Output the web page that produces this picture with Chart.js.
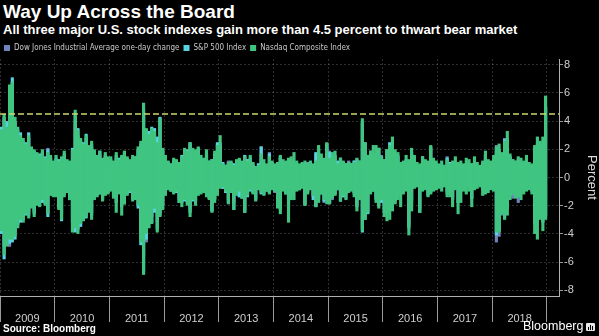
<!DOCTYPE html>
<html>
<head>
<meta charset="utf-8">
<script src="https://cdn.jsdelivr.net/npm/chart.js@4.4.1/dist/chart.umd.min.js"></script>
<style>
  html, body { margin: 0; padding: 0; background: #000; }
  #wrap { position: relative; width: 599px; height: 336px; overflow: hidden; background: #000;
          font-family: 'Liberation Sans', Arial, sans-serif; color: #fff; }
  #title { position: absolute; left: 3px; top: 2px; font-size: 19px; line-height: 1; font-weight: bold; white-space: nowrap; }
  #subtitle { position: absolute; left: 3px; top: 23px; font-size: 13px; line-height: 1; font-weight: bold; white-space: nowrap; }
  #chartBox { position: absolute; left: 0; top: 40px; width: 599px; height: 296px; }
  #source { position: absolute; left: 3px; top: 324px; font-size: 10px; line-height: 1; font-weight: bold; }
  #brand { position: absolute; left: 523px; top: 320px; font-size: 12.5px; line-height: 1; }
  #logo { position: absolute; left: 586px; top: 323px; width: 9px; height: 8px; background: #e8e8e8; border-radius: 1px; }
  #logo i { position: absolute; bottom: 1px; width: 1px; background: #000; }
</style>
</head>
<body>
<div id="wrap">
  <div id="title">Way Up Across the Board</div>
  <div id="subtitle">All three major U.S. stock indexes gain more than 4.5 percent to thwart bear market</div>
  <div id="chartBox"><canvas id="chart" width="599" height="296"></canvas></div>
  <div id="source">Source: Bloomberg</div>
  <div id="brand">Bloomberg</div>
  <div id="logo"><i style="left:2px;height:3px"></i><i style="left:4px;height:5px"></i><i style="left:6px;height:4px"></i></div>
</div>
<script>
// daily % moves, summarised as the low / high of each ~2.5 week slice (20 per year)
const firstYear = 2009;
const periodsPerYear = 20;
const yearLabels = ['2009', '2010', '2011', '2012', '2013', '2014', '2015', '2016', '2017', '2018'];
const yTicks = [-8, -7, -6, -5, -4, -3, -2, -1, 0, 1, 2, 3, 4, 5, 6, 7, 8];
const xRange = [2009, 2019.22];
const yRange = [-8.4, 8.4];
const thresholdValue = 4.5;

const nasdaqHigh = [
  3.4, 4.5, 3.6, 6.6, 6.8, 4.3, 3.6, 3.0, 2.8, 2.4, 3.0, 2.2, 2.0, 1.8, 1.6, 2.0, 1.4, 1.8, 1.6, 1.2,
  1.6, 1.2, 1.5, 1.9, 1.3, 1.2, 2.0, 4.8, 3.4, 2.8, 2.4, 3.0, 2.3, 2.6, 2.0, 1.6, 1.9, 1.4, 1.8, 1.5,
  1.5, 1.2, 1.8, 1.3, 1.6, 1.9, 1.5, 1.3, 1.6, 1.5, 2.2, 2.6, 5.3, 3.5, 3.1, 3.5, 3.3, 2.5, 4.2, 2.1,
  1.6, 1.2, 1.0, 1.4, 1.3, 1.1, 1.5, 2.1, 1.9, 2.5, 2.1, 2.0, 2.2, 1.6, 1.4, 2.0, 1.2, 1.3, 1.9, 2.3,
  3.0, 1.0, 0.9, 1.1, 1.2, 0.9, 1.3, 1.4, 1.2, 1.5, 1.2, 1.6, 1.1, 0.8, 0.9, 1.7, 1.3, 1.0, 1.5, 1.2,
  1.0, 1.1, 1.6, 1.3, 1.2, 1.4, 1.5, 1.8, 1.2, 1.0, 1.1, 1.2, 1.0, 1.2, 1.0, 1.2, 2.3, 1.7, 1.4, 2.5,
  1.4, 1.8, 1.9, 1.0, 1.4, 1.2, 1.0, 1.1, 1.0, 1.1, 1.4, 1.2, 4.2, 2.5, 1.6, 1.9, 2.3, 2.3, 2.1, 1.5,
  1.3, 2.0, 2.3, 2.9, 2.0, 1.8, 1.1, 1.2, 1.6, 1.3, 2.1, 1.6, 1.1, 1.0, 1.5, 1.3, 1.2, 2.3, 1.4, 1.2,
  1.0, 1.2, 0.9, 1.3, 1.0, 1.2, 1.5, 1.1, 1.2, 1.0, 1.4, 1.3, 1.0, 1.5, 1.1, 0.9, 1.2, 1.9, 1.3, 1.2,
  1.6, 2.2, 2.4, 1.8, 2.6, 3.3, 1.7, 1.3, 1.2, 1.5, 1.4, 1.2, 1.6, 1.1, 1.0, 2.3, 2.9, 2.6, 2.9, 5.8
];
const nasdaqLow = [
  -3.8, -5.5, -4.9, -4.4, -4.4, -4.2, -3.6, -3.0, -3.2, -2.6, -2.9, -2.2, -2.8, -2.0, -2.1, -1.6, -2.0, -2.6, -1.3, -1.4,
  -1.4, -2.3, -3.0, -1.4, -1.1, -1.6, -3.9, -3.6, -4.0, -3.3, -3.1, -2.8, -2.5, -3.0, -1.6, -1.4, -1.2, -1.7, -1.3, -1.2,
  -1.0, -1.5, -2.5, -1.2, -2.7, -1.9, -1.3, -1.0, -1.7, -1.6, -2.0, -4.6, -6.9, -4.0, -3.6, -3.3, -2.2, -3.9, -2.8, -2.3,
  -1.3, -0.9, -1.0, -1.2, -1.0, -1.8, -2.1, -1.6, -2.0, -2.8, -1.6, -2.0, -1.3, -1.2, -1.1, -1.4, -1.6, -2.5, -1.8, -1.3,
  -0.8, -0.7, -1.0, -1.9, -1.1, -2.3, -1.3, -1.0, -1.5, -2.5, -1.3, -0.9, -1.2, -1.7, -0.9, -1.1, -1.3, -1.0, -1.2, -0.9,
  -1.0, -2.2, -2.6, -1.0, -1.2, -3.2, -1.6, -1.6, -1.0, -0.9, -0.8, -2.0, -1.2, -0.9, -1.3, -2.1, -1.8, -1.2, -1.6, -1.9,
  -1.9, -1.5, -1.3, -0.9, -1.7, -1.3, -1.6, -1.1, -1.0, -1.4, -2.4, -1.6, -3.8, -3.0, -2.5, -1.2, -1.0, -1.8, -2.2, -1.6,
  -2.8, -3.1, -3.0, -2.4, -1.9, -1.6, -2.1, -1.2, -1.0, -4.1, -2.4, -0.8, -0.7, -2.5, -1.0, -0.9, -1.4, -1.2, -1.0, -0.9,
  -0.8, -1.0, -0.7, -1.4, -1.4, -2.1, -0.9, -2.6, -1.8, -1.0, -1.2, -1.0, -2.1, -0.9, -0.8, -0.7, -1.3, -1.2, -1.1, -0.9,
  -1.0, -3.9, -3.9, -2.6, -3.0, -2.7, -1.6, -1.2, -1.5, -1.4, -1.6, -1.2, -1.0, -0.9, -1.2, -4.0, -4.4, -3.0, -3.8, -3.0
];

const spxHigh = [
  3.6, 4.3, 4.0, 6.2, 7.1, 4.0, 3.4, 3.2, 2.6, 2.5, 3.2, 2.0, 1.9, 1.6, 1.7, 1.8, 1.5, 2.0, 1.4, 1.1,
  1.4, 1.3, 1.3, 1.7, 1.2, 1.1, 2.1, 4.4, 3.5, 2.6, 2.5, 3.1, 2.0, 2.4, 1.9, 1.5, 1.9, 1.3, 1.6, 1.3,
  1.3, 1.0, 1.6, 1.4, 1.5, 1.8, 1.4, 1.2, 1.4, 1.5, 2.0, 2.4, 4.8, 3.4, 3.3, 3.6, 3.5, 2.9, 4.3, 2.0,
  1.5, 1.1, 1.0, 1.2, 1.2, 1.0, 1.6, 1.9, 2.0, 2.5, 1.8, 1.7, 2.1, 1.4, 1.2, 1.7, 1.2, 1.3, 1.7, 2.5,
  2.5, 1.1, 0.9, 1.0, 1.1, 1.0, 1.2, 1.3, 1.1, 1.6, 1.3, 1.4, 1.0, 0.8, 1.0, 2.2, 1.0, 0.9, 1.7, 1.1,
  0.9, 1.0, 1.5, 1.1, 1.0, 1.3, 1.2, 1.1, 0.9, 0.9, 1.0, 1.0, 1.0, 1.1, 0.9, 1.8, 2.0, 1.4, 1.2, 2.4,
  1.8, 1.5, 1.6, 1.2, 1.4, 1.1, 1.0, 1.1, 1.0, 1.2, 1.3, 1.2, 3.9, 2.5, 1.5, 1.9, 1.7, 1.5, 2.1, 1.5,
  1.1, 2.0, 2.5, 2.4, 1.7, 1.6, 1.0, 1.1, 1.3, 1.1, 1.8, 1.5, 0.9, 0.8, 1.5, 1.2, 1.1, 2.2, 1.2, 1.0,
  0.8, 0.9, 0.7, 1.4, 1.1, 0.9, 1.1, 1.0, 0.9, 0.8, 1.0, 1.0, 1.0, 1.1, 0.8, 0.8, 1.0, 1.6, 1.0, 0.9,
  1.2, 1.9, 2.0, 1.7, 2.7, 2.7, 1.5, 1.1, 1.0, 1.2, 1.0, 1.0, 1.0, 0.8, 0.8, 2.1, 2.4, 2.3, 2.3, 5.0
];
const spxLow = [
  -4.0, -5.8, -4.8, -4.7, -4.6, -4.4, -3.4, -3.2, -3.0, -2.7, -2.7, -2.1, -2.6, -1.9, -2.0, -1.8, -1.9, -2.8, -1.2, -1.3,
  -1.3, -2.2, -3.1, -1.2, -1.0, -1.6, -3.2, -3.9, -3.7, -3.5, -2.9, -2.9, -2.2, -2.7, -1.5, -1.3, -1.2, -1.6, -1.2, -1.1,
  -0.9, -1.3, -1.8, -1.1, -2.1, -1.9, -1.2, -1.1, -1.6, -1.5, -2.2, -4.8, -6.7, -4.4, -3.3, -3.2, -2.5, -3.7, -2.7, -2.0,
  -1.2, -0.8, -1.0, -1.1, -1.1, -1.8, -1.8, -1.7, -1.9, -2.5, -1.7, -1.7, -1.2, -1.0, -1.0, -1.2, -1.5, -2.4, -1.6, -1.2,
  -0.7, -0.8, -1.1, -1.8, -1.1, -2.3, -1.1, -1.4, -1.5, -2.5, -1.4, -1.0, -1.1, -1.6, -0.8, -1.2, -1.2, -1.0, -1.1, -0.8,
  -1.0, -2.1, -2.3, -0.9, -1.2, -2.1, -1.3, -1.0, -0.8, -0.9, -0.7, -2.0, -1.1, -0.8, -1.6, -2.1, -1.6, -1.2, -1.7, -1.6,
  -1.8, -1.4, -1.2, -0.9, -1.7, -1.4, -1.2, -1.0, -0.9, -1.1, -2.1, -1.3, -3.9, -3.0, -2.6, -1.0, -1.0, -1.6, -2.0, -1.8,
  -2.5, -2.5, -2.3, -2.0, -1.7, -1.3, -1.2, -1.0, -0.9, -3.6, -1.8, -0.7, -0.6, -2.5, -0.9, -0.8, -1.3, -1.1, -0.9, -0.8,
  -0.6, -0.7, -0.6, -1.2, -1.2, -1.6, -0.8, -1.8, -0.9, -0.8, -0.7, -0.6, -1.5, -0.7, -0.5, -0.5, -0.9, -0.8, -0.9, -0.6,
  -0.8, -4.1, -3.8, -2.5, -2.5, -2.2, -1.3, -1.2, -1.1, -1.4, -1.0, -0.8, -0.8, -0.7, -1.0, -3.3, -3.1, -2.6, -3.2, -2.7
];

const dowHigh = [
  3.0, 4.1, 3.7, 5.8, 6.8, 3.9, 3.0, 2.9, 2.5, 2.3, 2.8, 1.8, 1.8, 1.5, 1.6, 1.7, 1.4, 2.1, 1.3, 1.0,
  1.2, 1.1, 1.3, 1.5, 1.0, 1.0, 1.9, 3.9, 3.0, 2.5, 2.2, 2.8, 2.0, 2.2, 1.8, 1.4, 1.7, 1.2, 1.5, 1.2,
  1.1, 1.0, 1.4, 1.2, 1.3, 1.6, 1.3, 1.1, 1.3, 1.4, 1.9, 2.2, 4.6, 3.0, 3.0, 3.3, 3.0, 2.6, 4.2, 1.9,
  1.5, 1.0, 0.9, 1.1, 1.1, 0.9, 1.4, 1.8, 1.9, 2.4, 1.8, 1.6, 2.0, 1.3, 1.1, 1.6, 1.1, 1.2, 1.6, 2.4,
  2.4, 1.0, 0.8, 1.2, 1.0, 1.0, 1.1, 1.2, 1.1, 1.5, 1.3, 1.2, 0.9, 0.8, 1.0, 2.2, 0.9, 0.9, 1.8, 1.0,
  0.9, 1.0, 1.4, 1.0, 1.0, 1.2, 1.1, 1.0, 0.9, 0.9, 0.9, 1.0, 1.1, 1.0, 0.9, 1.7, 1.7, 1.4, 1.2, 2.4,
  1.9, 1.5, 1.5, 1.1, 1.4, 1.1, 1.0, 1.2, 1.0, 1.2, 1.2, 1.1, 3.9, 2.4, 1.6, 1.8, 1.7, 1.5, 2.1, 1.6,
  1.3, 1.9, 2.0, 2.1, 1.6, 1.5, 1.1, 1.0, 1.2, 1.0, 1.6, 1.4, 0.8, 0.8, 1.5, 1.1, 1.0, 2.1, 1.2, 1.0,
  0.7, 0.8, 0.9, 1.5, 0.8, 0.9, 1.0, 0.9, 0.8, 0.8, 0.9, 0.9, 0.9, 1.0, 0.9, 0.8, 1.0, 1.4, 1.2, 0.9,
  1.2, 2.3, 1.9, 1.7, 2.8, 2.8, 1.5, 1.3, 1.2, 1.3, 1.0, 1.1, 1.0, 0.9, 0.9, 2.0, 2.2, 2.3, 2.5, 5.0
];
const dowLow = [
  -3.5, -4.9, -4.6, -4.9, -4.1, -3.9, -3.3, -2.9, -2.7, -2.4, -2.5, -1.9, -2.4, -1.7, -1.8, -1.7, -1.8, -2.5, -1.2, -1.2,
  -1.2, -2.0, -2.6, -1.1, -0.9, -1.3, -3.2, -3.6, -3.6, -3.1, -2.7, -2.6, -2.1, -2.5, -1.4, -1.2, -1.1, -1.5, -1.1, -1.0,
  -0.8, -1.2, -1.4, -1.0, -1.8, -1.7, -1.1, -1.0, -1.4, -1.4, -2.0, -4.3, -5.6, -4.6, -3.1, -2.8, -2.2, -3.2, -2.5, -1.9,
  -1.1, -0.8, -0.9, -1.0, -1.0, -1.6, -1.7, -1.5, -1.8, -2.2, -1.5, -1.6, -1.1, -0.9, -0.9, -1.1, -1.5, -2.4, -1.5, -1.1,
  -0.6, -0.8, -1.0, -1.6, -1.0, -1.8, -1.0, -1.4, -1.4, -2.3, -1.3, -0.9, -1.0, -1.5, -0.8, -1.1, -1.1, -0.9, -1.0, -0.8,
  -1.1, -2.0, -2.1, -0.9, -1.1, -1.6, -1.2, -0.9, -0.7, -0.8, -0.7, -1.9, -1.0, -0.8, -1.4, -2.0, -1.4, -1.1, -1.8, -1.5,
  -1.9, -1.6, -1.2, -0.8, -1.7, -1.4, -1.5, -0.9, -0.9, -1.2, -2.0, -1.2, -3.6, -2.8, -2.5, -1.0, -0.9, -1.4, -1.8, -1.7,
  -2.3, -2.4, -2.2, -1.9, -1.5, -1.2, -1.1, -1.0, -0.9, -3.4, -1.6, -0.7, -0.6, -2.2, -0.9, -0.8, -1.2, -1.0, -0.8, -0.9,
  -0.6, -0.6, -0.5, -1.0, -1.1, -1.4, -0.7, -1.8, -0.8, -0.7, -0.6, -0.6, -1.5, -0.7, -0.5, -0.5, -0.8, -0.6, -0.8, -0.6,
  -0.8, -4.6, -4.2, -2.7, -2.9, -2.3, -1.3, -1.5, -1.2, -1.8, -1.1, -0.8, -0.9, -0.7, -0.9, -3.2, -2.9, -2.5, -3.1, -2.9
];

// one floating bar per slice, spanning its low..high move
function toBars(lows, highs) {
  return lows.map((lo, i) => ({ x: firstYear + (i + 0.5) / periodsPerYear, y: [lo, highs[i]] }));
}

// year boundaries get separators, mid-years carry the labels
const yearBounds = yearLabels.map(Number).concat([Number(yearLabels[yearLabels.length - 1]) + 1]);
const xTickValues = [];
yearBounds.forEach((y, i) => {
  xTickValues.push(y);
  if (i < yearLabels.length) xTickValues.push(y + 0.5);
});
const isBound = v => Number.isInteger(v);

const barDefaults = { grouped: false, borderWidth: 0, categoryPercentage: 1, barPercentage: 1.15 };

Chart.defaults.font.family = "'Liberation Sans', Arial, sans-serif";

new Chart(document.getElementById('chart'), {
  type: 'bar',
  data: {
    datasets: [
      Object.assign({ label: 'Dow Jones Industrial Average one-day change', data: toBars(dowLow, dowHigh),
        backgroundColor: '#7084bb', order: 3 }, barDefaults),
      Object.assign({ label: 'S&P 500 Index', data: toBars(spxLow, spxHigh),
        backgroundColor: '#58d2e3', order: 2 }, barDefaults),
      Object.assign({ label: 'Nasdaq Composite Index', data: toBars(nasdaqLow, nasdaqHigh),
        backgroundColor: '#3fc57f', order: 1 }, barDefaults),
      {
        type: 'line', label: 'threshold',
        data: [{ x: xRange[0], y: thresholdValue }, { x: xRange[1], y: thresholdValue }],
        borderColor: '#cbd86c', borderWidth: 1.6, borderDash: [6, 3], pointRadius: 0, order: 0
      }
    ]
  },
  options: {
    responsive: false,
    animation: false,
    events: [],
    layout: { padding: 0 },
    plugins: {
      tooltip: { enabled: false },
      legend: {
        position: 'top',
        align: 'start',
        maxHeight: 19,
        labels: {
          boxWidth: 6, boxHeight: 6, padding: 4,
          color: '#c8c8c8',
          font: { size: 8, family: "'Liberation Sans Narrow', 'DejaVu Sans Condensed', 'Liberation Sans', sans-serif" },
          filter: item => item.text !== 'threshold',
          sort: (a, b) => a.datasetIndex - b.datasetIndex
        }
      }
    },
    scales: {
      x: {
        type: 'linear',
        min: xRange[0], max: xRange[1],
        offset: false,
        afterBuildTicks: axis => { axis.ticks = xTickValues.map(v => ({ value: v })); },
        afterFit: axis => { axis.height = 40; },
        grid: {
          offset: false,
          color: ctx => (ctx.tick && isBound(ctx.tick.value) ? 'rgba(255,255,255,0.18)' : 'transparent'),
          tickColor: ctx => (ctx.tick && isBound(ctx.tick.value) ? '#9a9a9a' : 'transparent'),
          tickLength: 26
        },
        border: { color: '#b0b0b0', dash: [2, 2] },
        ticks: {
          autoSkip: false, minRotation: 0, maxRotation: 0,
          padding: -10,
          color: '#cfcfcf',
          font: { size: 11 },
          callback: v => (isBound(v) ? '' : String(Math.floor(v)))
        }
      },
      y: {
        position: 'right',
        min: yRange[0], max: yRange[1],
        afterBuildTicks: axis => { axis.ticks = yTicks.map(v => ({ value: v })); },
        afterFit: axis => { axis.width = 40; },
        grid: {
          color: ctx => (ctx.tick && ctx.tick.value % 2 === 0 ? 'rgba(255,255,255,0.18)' : 'transparent'),
          tickColor: '#9a9a9a',
          tickLength: 4
        },
        border: { color: '#b0b0b0', dash: [2, 2] },
        ticks: {
          padding: 1,
          color: '#cfcfcf',
          font: { size: 11 },
          callback: v => (v % 2 === 0 ? String(v) : '')
        },
        title: { display: true, text: 'Percent', color: '#dcdcdc', font: { size: 13 }, padding: 0 }
      }
    }
  }
});
</script>
</body>
</html>
